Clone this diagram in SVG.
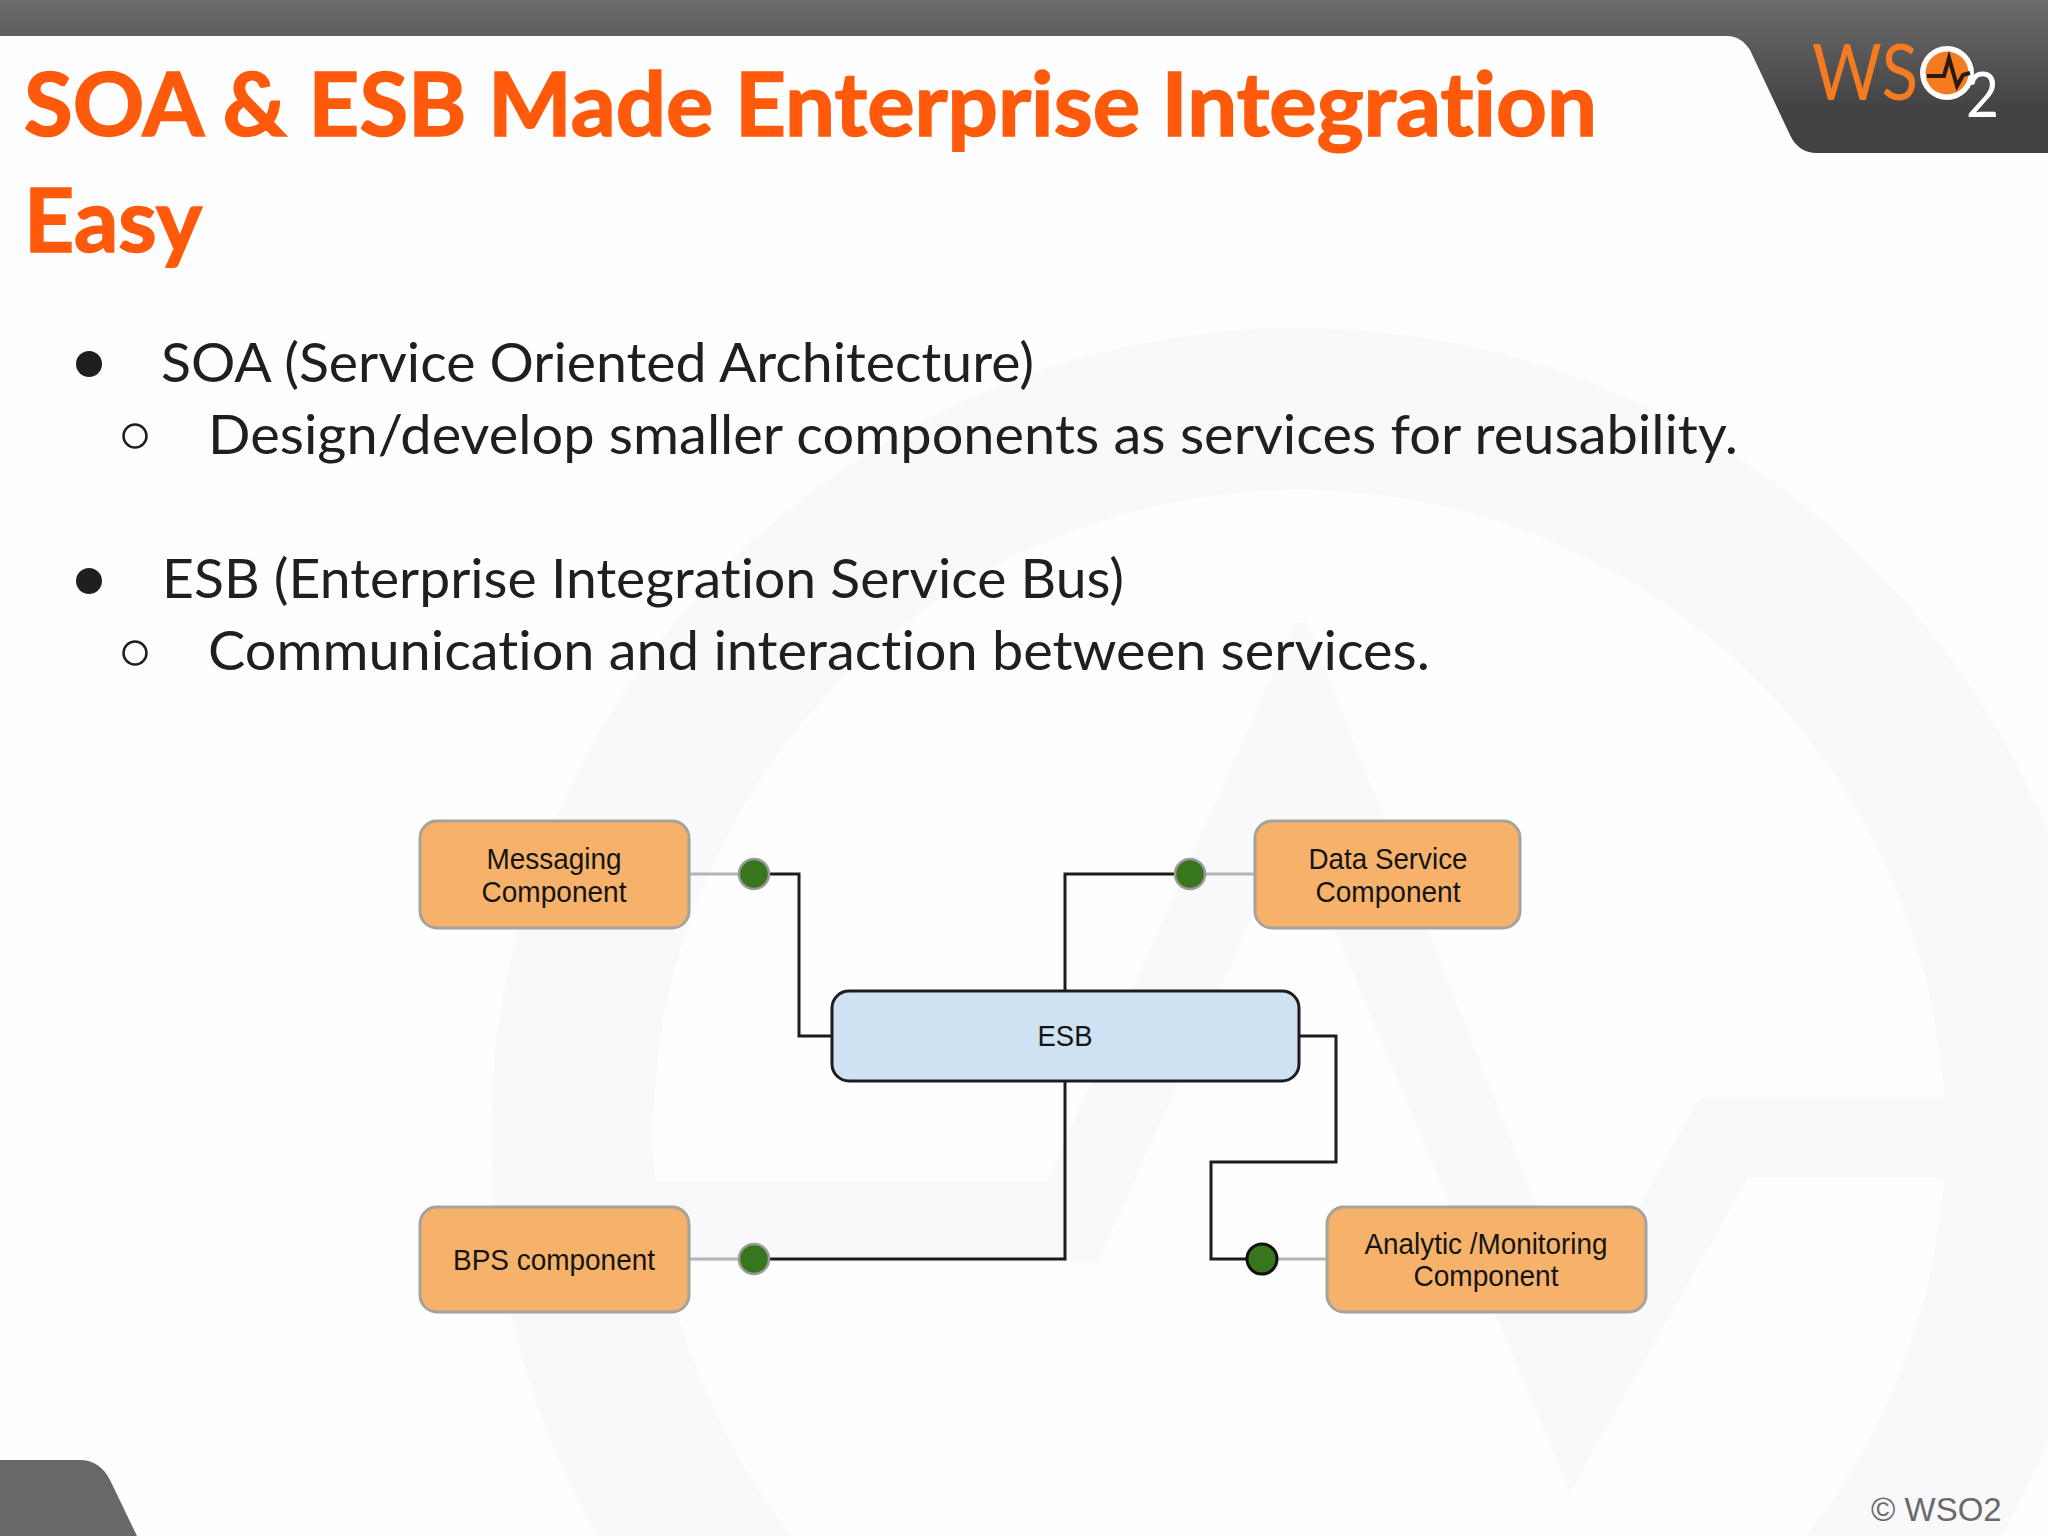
<svg xmlns="http://www.w3.org/2000/svg" width="2048" height="1536" viewBox="0 0 2048 1536">
<defs>
<linearGradient id="bar" x1="0" y1="0" x2="0" y2="1"><stop offset="0" stop-color="#6c6c6c"/><stop offset="0.38" stop-color="#565657"/><stop offset="0.7" stop-color="#434244"/><stop offset="1" stop-color="#424143"/></linearGradient>
</defs>
<style>
text{font-variant-ligatures:none}
.t{font-family:"Lato","Open Sans",sans-serif;font-weight:700;font-size:88px;fill:#ff5a0c;stroke:#ff5a0c;stroke-width:1.6px}
.b{font-family:"Lato","Open Sans",sans-serif;font-size:54px;fill:#1f1f21}
.n{font-family:"Liberation Sans",Arial,sans-serif;font-size:30px;fill:#141414;text-anchor:middle}
.box{fill:#f6b26b;stroke:#a6a29c;stroke-width:3}
.dot{fill:#38761d;stroke:#9a9a9a;stroke-width:2.5}
.wire{fill:none;stroke:#1c1c1c;stroke-width:3}
.stub{fill:none;stroke:#b4b4b4;stroke-width:3}
</style>
<rect width="2048" height="1536" fill="#fefefe"/>
<g id="watermark" fill="#f9f8fa">
<path fill-rule="evenodd" d="M1299 328a808 808 0 1 0 .1 0ZM1299 490a646 646 0 1 1-.1 0Z"/>
<path d="M645 1181H1047L1296 622H1307L1579 1314L1699 1098H1955V1178H1748L1570 1492L1292 828L1098 1262H660Z"/>
</g>
<g id="header">
<path d="M0 0H2048V153H1817C1804 153 1795 146 1790 135L1750 50C1744 41 1737 36 1727 36H0Z" fill="url(#bar)"/>
<path d="M0 1460H80C94 1460 104 1468 110 1480L137 1536H0Z" fill="#686868"/>
</g>
<g id="logo">
<text x="1812" y="100" font-family="Lato,sans-serif" font-weight="400" font-size="78" fill="#f47b20" textLength="106" lengthAdjust="spacingAndGlyphs">WS</text>
<circle cx="1947" cy="73" r="27" fill="#fff"/>
<circle cx="1947" cy="73" r="21.5" fill="#f47b20"/>
<path d="M1927 76H1944L1949 58L1957 86L1963 75L1970 73" fill="none" stroke="#2a1a12" stroke-width="4"/>
<text x="1966" y="117" font-family="Lato,sans-serif" font-weight="400" font-size="62" fill="#fff" textLength="33" lengthAdjust="spacingAndGlyphs">2</text>
</g>
<g id="title">
<text class="t" x="24" y="136" textLength="1573" lengthAdjust="spacingAndGlyphs">SOA &amp; ESB Made Enterprise Integration</text>
<text class="t" x="24" y="252" textLength="178" lengthAdjust="spacingAndGlyphs">Easy</text>
</g>
<g id="bullets">
<circle cx="89" cy="364" r="13" fill="#1f1f21"/>
<circle cx="135" cy="436" r="11.5" fill="none" stroke="#1f1f21" stroke-width="2.5"/>
<circle cx="89" cy="581" r="13" fill="#1f1f21"/>
<circle cx="135" cy="653" r="11.5" fill="none" stroke="#1f1f21" stroke-width="2.5"/>
<text class="b" x="161" y="382" textLength="873" lengthAdjust="spacingAndGlyphs">SOA (Service Oriented Architecture)</text>
<text class="b" x="208" y="454" textLength="1530" lengthAdjust="spacingAndGlyphs">Design/develop smaller components as services for reusability.</text>
<text class="b" x="162" y="598" textLength="962" lengthAdjust="spacingAndGlyphs">ESB (Enterprise Integration Service Bus)</text>
<text class="b" x="208" y="670" textLength="1222" lengthAdjust="spacingAndGlyphs">Communication and interaction between services.</text>
</g>
<g id="connectors">
<path class="stub" d="M689 874H739M1205 874H1255M689 1259H739M1278 1259H1327"/>
<path class="wire" d="M769 874H799V1036H832"/>
<path class="wire" d="M1175 874H1065V991"/>
<path class="wire" d="M769 1259H1065V1081"/>
<path class="wire" d="M1299 1036H1336V1162H1211V1259H1248"/>
</g>
<g id="node-messaging"><rect class="box" x="420" y="821" width="269" height="107" rx="17"/><text class="n" x="554" y="869" textLength="135" lengthAdjust="spacingAndGlyphs">Messaging</text><text class="n" x="554" y="902" textLength="145" lengthAdjust="spacingAndGlyphs">Component</text><circle class="dot" cx="754" cy="874" r="15"/></g>
<g id="node-data"><rect class="box" x="1255" y="821" width="265" height="107" rx="17"/><text class="n" x="1388" y="869" textLength="159" lengthAdjust="spacingAndGlyphs">Data Service</text><text class="n" x="1388" y="902" textLength="145" lengthAdjust="spacingAndGlyphs">Component</text><circle class="dot" cx="1190" cy="874" r="15"/></g>
<g id="node-esb"><rect x="832" y="991" width="467" height="90" rx="17" fill="#cfe2f3" stroke="#1c1c1c" stroke-width="3"/><text class="n" x="1065" y="1046" textLength="55" lengthAdjust="spacingAndGlyphs">ESB</text></g>
<g id="node-bps"><rect class="box" x="420" y="1207" width="269" height="105" rx="17"/><text class="n" x="554" y="1270" textLength="202" lengthAdjust="spacingAndGlyphs">BPS component</text><circle class="dot" cx="754" cy="1259" r="15"/></g>
<g id="node-analytic"><rect class="box" x="1327" y="1207" width="319" height="105" rx="17"/><text class="n" x="1486" y="1254" textLength="243" lengthAdjust="spacingAndGlyphs">Analytic /Monitoring</text><text class="n" x="1486" y="1286" textLength="145" lengthAdjust="spacingAndGlyphs">Component</text><circle cx="1262" cy="1259" r="15" fill="#38761d" stroke="#111" stroke-width="3"/></g>
<g id="footer"><text x="1871" y="1521" font-family="Liberation Sans,Arial,sans-serif" font-size="33" fill="#6a6a6a">© WSO2</text></g>
</svg>
